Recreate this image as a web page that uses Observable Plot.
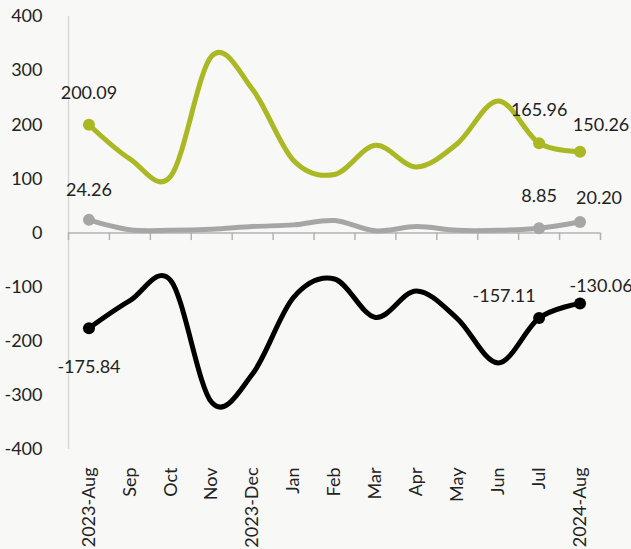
<!DOCTYPE html>
<html><head><meta charset="utf-8">
<script src="https://cdn.jsdelivr.net/npm/d3@7"></script>
<script src="https://cdn.jsdelivr.net/npm/@observablehq/plot@0.6"></script>
<style>
html,body{margin:0;padding:0;background:#f8f8f6;}
#chart svg{display:block;}
</style></head><body><div id="chart"></div>
<script>
const months = ["2023-Aug","Sep","Oct","Nov","2023-Dec","Jan","Feb","Mar","Apr","May","Jun","Jul","2024-Aug"];
const greenValues = [200.09, 137, 105, 327, 265, 134, 108, 162, 122, 165, 244, 165.96, 150.26];
const grayValues  = [24.26, 6, 5, 7, 12, 15, 23, 4, 12, 5, 5, 8.85, 20.20];
const blackValues = [-175.84, -125, -88, -313, -260, -119, -85, -156, -107, -158, -240, -157.11, -130.06];
const yTicks = [-400, -300, -200, -100, 0, 100, 200, 300, 400];
const labelledIdx = [0, 11, 12];

const GREEN = "#a9b823", GRAY = "#a6a6a6", BLACK = "#000000";
const toRows = (vals, s) => vals.map((v, i) => ({i, v, s}));
const gRows = toRows(greenValues, "green");
const aRows = toRows(grayValues, "gray");
const kRows = toRows(blackValues, "black");
const pick = (rows, idx) => rows.filter(d => idx.includes(d.i));
const boundaries = d3.range(months.length + 1).map(i => i - 0.5);
const fmt = v => v.toFixed(2);
const FS = 18;
const TXT = "#222";

const lineOpts = (color) => ({x: "i", y: "v", stroke: color, strokeWidth: 5, curve: "cardinal", tension: 0, strokeLinejoin: "round", strokeLinecap: "round"});
const label = (rows, idx, dx, dy) => Plot.text(pick(rows, idx), {x: "i", y: "v", text: d => fmt(d.v), dx, dy, fontSize: FS, fill: TXT});

const chart = Plot.plot({
  width: 631,
  height: 549,
  marginLeft: 68,
  marginRight: 31,
  marginTop: 16,
  marginBottom: 100,
  style: {fontFamily: "Lato, 'Open Sans', sans-serif", background: "#f8f8f6", overflow: "visible"},
  x: {type: "linear", domain: [-0.5, months.length - 0.5]},
  y: {domain: [-400, 400]},
  marks: [
    Plot.ruleX([-0.5], {stroke: "#d9d9d9", strokeWidth: 1.5}),
    Plot.ruleY([0], {stroke: "#b3b3b3", strokeWidth: 1.5}),
    Plot.ruleX(boundaries, {x: d => d, y1: 0, y2: -14, stroke: "#b3b3b3", strokeWidth: 1.5}),
    Plot.axisY({ticks: yTicks, tickFormat: d => String(d), tickSize: 0, tickPadding: 26, fontSize: FS, fill: TXT, label: null}),
    Plot.axisX({ticks: d3.range(months.length), tickFormat: i => months[i], tickSize: 0, tickRotate: -90, tickPadding: 18, fontSize: FS, fill: TXT, label: null}),
    Plot.line(aRows, lineOpts(GRAY)),
    Plot.line(gRows, lineOpts(GREEN)),
    Plot.line(kRows, lineOpts(BLACK)),
    Plot.dot(pick(aRows, labelledIdx), {x: "i", y: "v", r: 6, fill: GRAY}),
    Plot.dot(pick(gRows, labelledIdx), {x: "i", y: "v", r: 6, fill: GREEN}),
    Plot.dot(pick(kRows, labelledIdx), {x: "i", y: "v", r: 6, fill: BLACK}),
    label(gRows, [0], 0, -31),
    label(gRows, [11], 0, -33),
    label(gRows, [12], 21, -26),
    label(aRows, [0], 0, -30),
    label(aRows, [11], 0, -32),
    label(aRows, [12], 19, -24),
    label(kRows, [0], 0, 39),
    label(kRows, [11], -35, -22),
    label(kRows, [12], 21, -17)
  ]
});
document.getElementById("chart").appendChild(chart);
</script>
</body></html>
